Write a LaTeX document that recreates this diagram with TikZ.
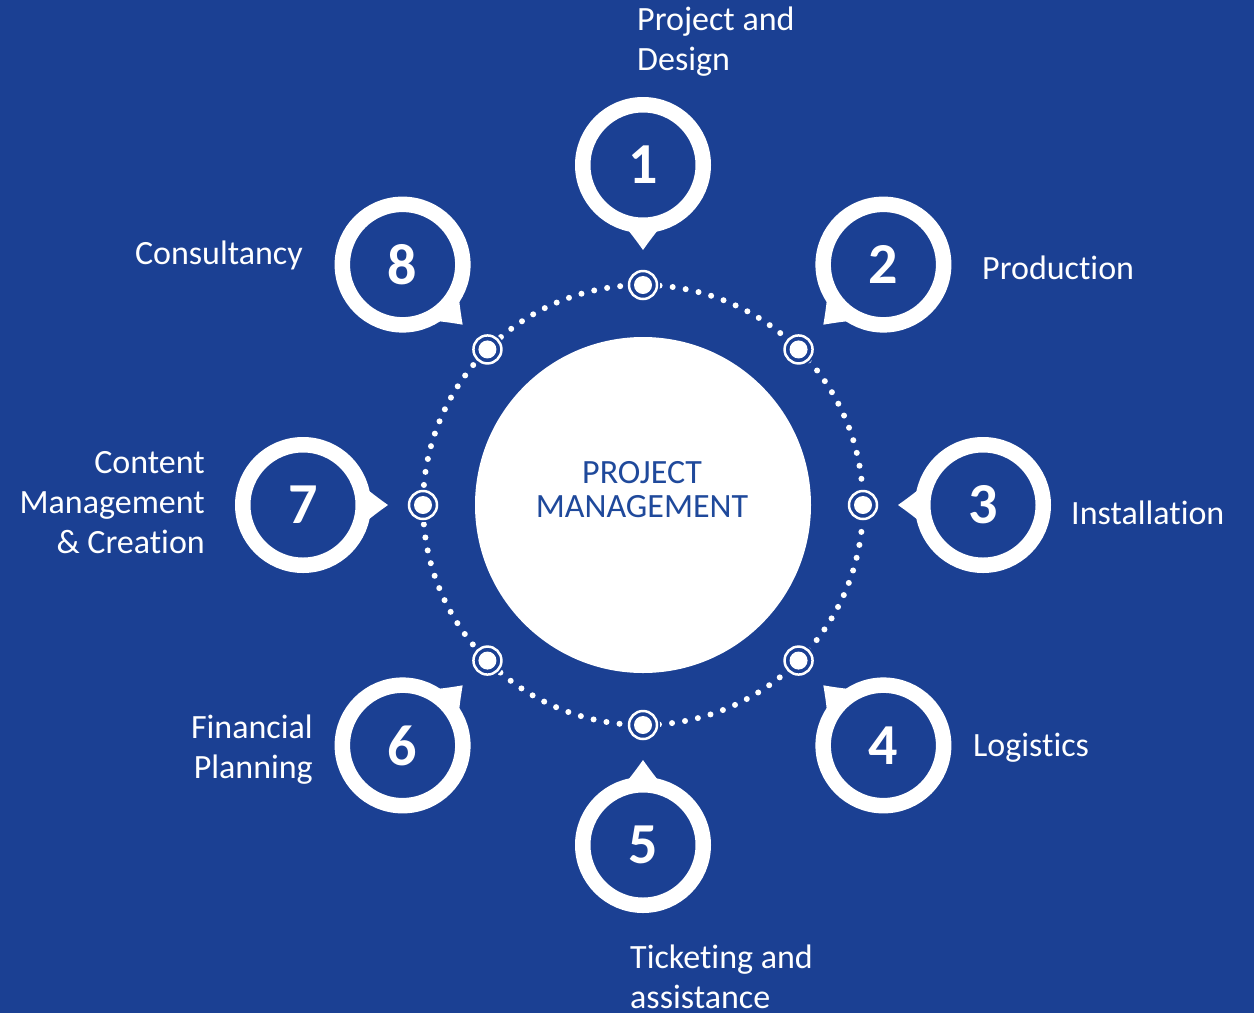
\documentclass[tikz,border=0pt]{standalone}
\usepackage{fontspec}
\setmainfont{Carlito}[Ligatures=NoCommon]
\usetikzlibrary{calc}
\definecolor{bg}{RGB}{27,64,147}
\definecolor{ctext}{RGB}{31,73,155}
\begin{document}
\begin{tikzpicture}[x=1pt,y=-1pt,
  numring/.style={circle, draw=white, line width=15.5pt, fill=bg, minimum size=120.5pt,
    inner sep=0pt, text=white, font=\fontsize{58}{58}\selectfont\bfseries},
  lab/.style={text=white, inner sep=0pt, font=\fontsize{34}{40}\selectfont},
  labL/.style={lab, anchor=west, align=left},
  labR/.style={lab, anchor=east, align=right},
  pointer/.style={fill=white},
  markbg/.style={fill=bg},
  markring/.style={draw=white, line width=2.5pt},
  markdot/.style={fill=white}
]
\fill[bg] (0,0) rectangle (1254,1013);
\useasboundingbox (0,0) rectangle (1254,1013);
\coordinate (C) at (643,505);
\draw[white, line width=6pt, line cap=round, dash pattern=on 0pt off 13.16pt] (C) circle (220pt);
\node[circle, fill=white, minimum size=336pt, inner sep=0pt] (center) at (C) {};
\node[text=ctext, align=center, inner sep=0pt, font=\fontsize{34}{34}\selectfont] (title) at (642,490) {PROJECT\\MANAGEMENT};
\foreach \i in {1,...,8} {
  \pgfmathsetmacro\a{-90+45*(\i-1)}
  \coordinate (p\i) at ($(C)+(\a:340)$);
  \fill[pointer] ($(p\i)+(\a+180+16:64)$) .. controls ($(p\i)+(\a+180+5:76)$) .. ($(p\i)+(\a+180:85)$)
     .. controls ($(p\i)+(\a+180-5:76)$) .. ($(p\i)+(\a+180-16:64)$) -- cycle;
  \node[numring] (n\i) at (p\i) {\i};
  \coordinate (m\i) at ($(C)+(\a:220)$);
  \fill[markbg] (m\i) circle (17pt);
  \draw[markring] (m\i) circle (14pt);
  \fill[markdot] (m\i) circle (9pt);
}
\node[labL] (l1) at (637,42) {Project and\\Design};
\node[labL] (l2) at (982,268) {Production};
\node[labL] (l3) at (1071,513) {Installation};
\node[labL] (l4) at (973,748) {Logistics};
\node[labL] (l5) at (630,977) {Ticketing and\\assistance};
\node[labR] (l6) at (313,750) {Financial\\Planning};
\node[labR] (l7) at (205,503) {Content\\Management\\\& Creation};
\node[labR] (l8) at (303,255) {Consultancy};
\end{tikzpicture}
\end{document}
